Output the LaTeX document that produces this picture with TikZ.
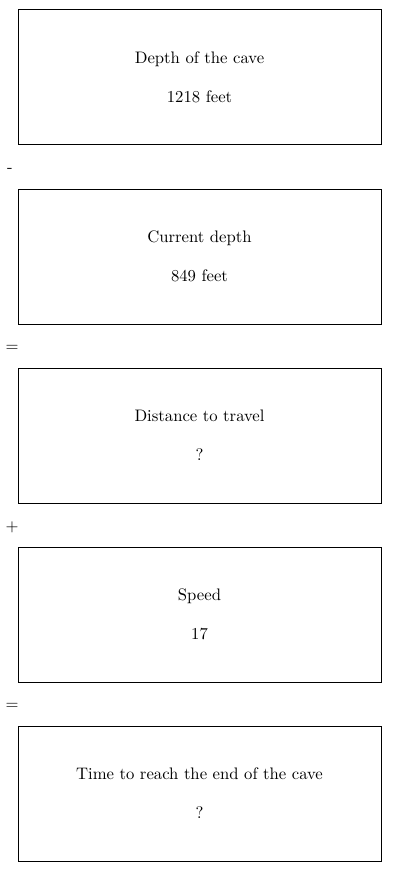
\documentclass[tikz,border=0pt]{standalone}
\usepackage{tikz}
\usetikzlibrary{positioning}

\begin{document}
\begin{tikzpicture}[x=0.6pt,y=-0.6pt]
                      \tikzstyle{stepbox}=[draw=black,line width=0.6pt,minimum width=217.8pt,minimum height=81pt,align=center,inner sep=0pt]
                      \tikzstyle{op}=[inner sep=0pt]
                      \useasboundingbox (0,0) rectangle (400,872);
                      \node[stepbox] (depth) at (199.5,77.5) {Depth of the cave\\[11.4pt]1218 feet};
                      \node[stepbox] (current) at (199.5,256.5) {Current depth\\[11.4pt]849 feet};
                      \node[stepbox] (dist) at (199.5,435.5) {Distance to travel\\[11.4pt]?};
                      \node[stepbox] (speed) at (199.5,614.5) {Speed\\[11.4pt]17};
                      \node[stepbox] (time) at (199.5,793.5) {Time to reach the end of the cave\\[11.4pt]?};
                      \node[op] (minus) at (10,170) {-};
                      \node[op] (eqa) at (12,348) {=};
                      \node[op] (plus) at (12,527) {+};
                      \node[op] (eqb) at (12,706) {=};
                  \end{tikzpicture}
\end{document}
